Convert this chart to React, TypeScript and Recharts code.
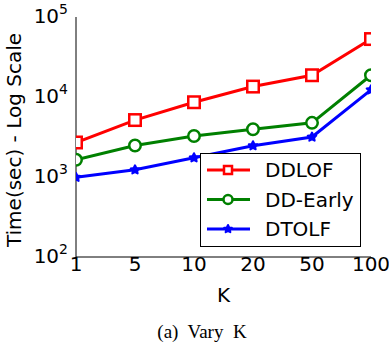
import React from 'react';
import { Legend, Line, LineChart, XAxis, YAxis } from 'recharts';

const kValues = ['1', '5', '10', '20', '50', '100'];
const ddlof = [2700, 5150, 8600, 13500, 18700, 53000];
const ddEarly = [1640, 2480, 3250, 3950, 4750, 18700];
const dtolf = [990, 1230, 1740, 2460, 3160, 12300];

const majorTicks = [100, 1000, 10000, 100000];
const minorTicks = [
  200, 300, 400, 500, 600, 700, 800, 900,
  2000, 3000, 4000, 5000, 6000, 7000, 8000, 9000,
  20000, 30000, 40000, 50000, 60000, 70000, 80000, 90000,
];

const data = kValues.map((k, i) => ({ k, ddlof: ddlof[i], ddEarly: ddEarly[i], dtolf: dtolf[i] }));

type Shape = 'square' | 'circle' | 'star';

const series: { key: string; name: string; color: string; shape: Shape }[] = [
  { key: 'ddlof', name: 'DDLOF', color: '#ff0000', shape: 'square' },
  { key: 'ddEarly', name: 'DD-Early', color: '#008000', shape: 'circle' },
  { key: 'dtolf', name: 'DTOLF', color: '#0000ff', shape: 'star' },
];

const FONT = '"DejaVu Sans", sans-serif';
const BLACK = '#000';

const Marker = ({ shape, cx, cy, color, size }: { shape: Shape; cx: number; cy: number; color: string; size: number }) => {
  if (shape === 'square') {
    return <rect x={cx - size / 2} y={cy - size / 2} width={size} height={size} fill='#fff' stroke={color} strokeWidth={2.5} />;
  }
  if (shape === 'circle') {
    return <circle cx={cx} cy={cy} r={size / 2} fill='#fff' stroke={color} strokeWidth={2.5} />;
  }
  const outer = size / 2;
  const inner = outer * 0.5;
  const pts = Array.from({ length: 10 }, (_, i) => {
    const a = ((-90 + i * 36) * Math.PI) / 180;
    const r = i % 2 ? inner : outer;
    return `${cx + r * Math.cos(a)},${cy + r * Math.sin(a)}`;
  }).join(' ');
  return <polygon points={pts} fill={color} stroke={color} strokeWidth={2} strokeLinejoin='round' />;
};

const PowerTick = (props: any) => {
  const { x, y, payload } = props;
  const exp = Math.round(Math.log10(payload.value));
  return (
    <text x={x} y={y + 6} textAnchor='end' fontFamily={FONT} fontSize={20} fill={BLACK}>
      <tspan>10</tspan>
      <tspan dy={-9} fontSize={14}>{exp}</tspan>
    </text>
  );
};

const KTick = (props: any) => {
  const { x, y, payload } = props;
  return (
    <text x={x} y={y + 12} textAnchor='middle' fontFamily={FONT} fontSize={20} fill={BLACK}>
      {payload.value}
    </text>
  );
};

const renderLegend = () => (
  <svg width={161} height={94} style={{ display: 'block' }}>
    <rect x={0.5} y={0.5} width={160} height={93} fill='#fff' stroke={BLACK} strokeWidth={1} />
    {series.map((s, i) => {
      const cy = 17 + i * 29.5;
      return (
        <g key={s.key}>
          <line x1={7} x2={50} y1={cy} y2={cy} stroke={s.color} strokeWidth={3} />
          <Marker shape={s.shape} cx={28} cy={cy} color={s.color} size={s.shape === 'square' ? 8 : s.shape === 'circle' ? 9 : 8} />
          <text x={65} y={cy + 7} fontFamily={FONT} fontSize={20} fill={BLACK}>
            {s.name}
          </text>
        </g>
      );
    })}
  </svg>
);

export default function App() {
  return (
    <div style={{ position: 'absolute', left: 0, top: 0, width: 389, height: 346, background: '#fff' }}>
      <LineChart width={389} height={346} data={data} margin={{ top: 17, right: 18, bottom: 59, left: 16 }}>
        <XAxis
          xAxisId='x'
          dataKey='k'
          height={30}
          interval={0}
          allowDataOverflow
          tickLine={false}
          tickSize={0}
          axisLine={{ stroke: BLACK, strokeWidth: 1 }}
          tick={KTick}
          label={(p: any) => (
            <text
              x={p.viewBox.x + p.viewBox.width / 2}
              y={p.viewBox.y + 45}
              textAnchor='middle'
              fontFamily={FONT}
              fontSize={20}
              fill={BLACK}
            >
              K
            </text>
          )}
        />
        <XAxis xAxisId='xb' dataKey='k' height={0} mirror interval={0} tick={false} tickSize={6} axisLine={false} tickLine={{ stroke: BLACK }} />
        <XAxis
          xAxisId='xt'
          dataKey='k'
          orientation='top'
          height={0}
          mirror
          interval={0}
          tick={false}
          tickSize={6}
          axisLine={{ stroke: BLACK, strokeWidth: 1 }}
          tickLine={{ stroke: BLACK }}
        />
        <YAxis
          yAxisId='y'
          type='number'
          scale='log'
          domain={[100, 100000]}
          allowDataOverflow
          ticks={majorTicks}
          interval={0}
          width={60}
          tickLine={false}
          axisLine={{ stroke: BLACK, strokeWidth: 1 }}
          tick={PowerTick}
          label={(p: any) => {
            const x = p.viewBox.x + 5;
            const y = p.viewBox.y + p.viewBox.height / 2 + 3;
            return (
              <text x={x} y={y} transform={`rotate(-90, ${x}, ${y})`} textAnchor='middle' fontFamily={FONT} fontSize={20} fill={BLACK}>
                Time(sec) - Log Scale
              </text>
            );
          }}
        />
        <YAxis yAxisId='yl' type='number' scale='log' domain={[100, 100000]} allowDataOverflow ticks={majorTicks} interval={0} width={0} mirror tick={false} tickSize={6} axisLine={false} tickLine={{ stroke: BLACK }} />
        <YAxis yAxisId='ylm' type='number' scale='log' domain={[100, 100000]} allowDataOverflow ticks={minorTicks} interval={0} width={0} mirror tick={false} tickSize={3} axisLine={false} tickLine={{ stroke: BLACK }} />
        <YAxis
          yAxisId='yr'
          orientation='right'
          type='number'
          scale='log'
          domain={[100, 100000]}
          allowDataOverflow
          ticks={majorTicks}
          interval={0}
          width={0}
          mirror
          tick={false}
          tickSize={6}
          axisLine={{ stroke: BLACK, strokeWidth: 1 }}
          tickLine={{ stroke: BLACK }}
        />
        <YAxis yAxisId='yrm' orientation='right' type='number' scale='log' domain={[100, 100000]} allowDataOverflow ticks={minorTicks} interval={0} width={0} mirror tick={false} tickSize={3} axisLine={false} tickLine={{ stroke: BLACK }} />

        {series.map((s) => (
          <Line
            key={s.key}
            xAxisId='x'
            yAxisId='y'
            dataKey={s.key}
            name={s.name}
            type='linear'
            stroke={s.color}
            strokeWidth={3}
            isAnimationActive={false}
            dot={(p: any) => (
              <Marker key={`${s.key}-${p.index}`} shape={s.shape} cx={p.cx} cy={p.cy} color={s.color} size={s.shape === 'star' ? 9 : 11.5} />
            )}
            activeDot={false}
          />
        ))}

        <Legend
          layout='vertical'
          align='center'
          verticalAlign='middle'
          wrapperStyle={{ left: 200, top: 153, width: 161, height: 94 }}
          content={renderLegend}
        />
      </LineChart>
      <div
        style={{
          position: 'absolute',
          left: 0,
          width: 404,
          top: 321,
          textAlign: 'center',
          fontFamily: '"Liberation Serif", serif',
          fontSize: 19,
          lineHeight: 'normal',
          whiteSpace: 'pre',
          color: BLACK,
        }}
      >
        {'(a)  Vary  K'}
      </div>
    </div>
  );
}
